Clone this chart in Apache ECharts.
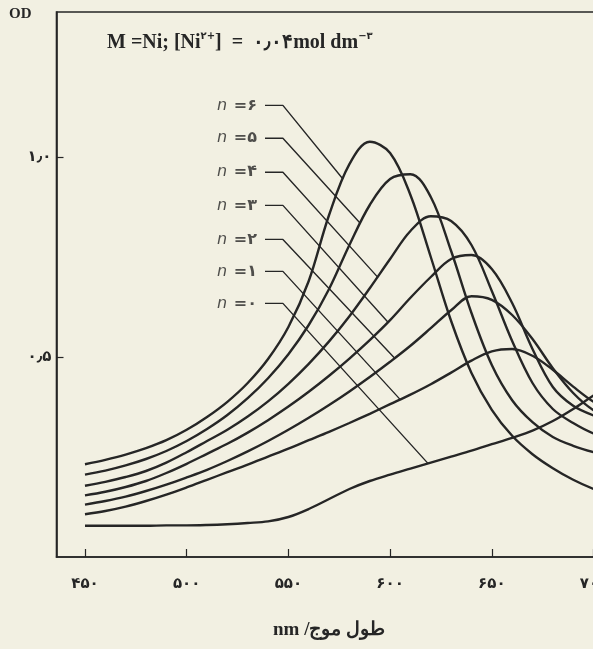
<!DOCTYPE html>
<html>
<head>
<meta charset="utf-8">
<style>
html, body { margin: 0; padding: 0; background: #f2f0e2; }
#chart { width: 593px; height: 649px; }
</style>
</head>
<body>
<div id="chart"></div>
<script src="https://cdn.jsdelivr.net/npm/echarts@6/dist/echarts.min.js"></script>
<script>
// wavelength grid (nm)
var wavelengths = [450, 460, 470, 480, 490, 500, 510, 520, 530, 540, 550, 560, 570, 580, 590,
                   600, 610, 620, 630, 640, 650, 660, 670, 680, 690, 700, 710];

// optical density, one array per n
var od_n0 = [0.078, 0.078, 0.078, 0.078, 0.079, 0.079, 0.080, 0.082, 0.085, 0.089, 0.100, 0.120, 0.145, 0.170, 0.190,
             0.206, 0.221, 0.236, 0.251, 0.266, 0.282, 0.298, 0.316, 0.340, 0.370, 0.404, 0.435];
var od_n1 = [0.107, 0.115, 0.126, 0.140, 0.156, 0.174, 0.193, 0.212, 0.231, 0.251, 0.271, 0.292, 0.313, 0.335, 0.358,
             0.382, 0.406, 0.432, 0.461, 0.491, 0.514, 0.520, 0.503, 0.468, 0.426, 0.388, 0.362];
var od_n2 = [0.131, 0.140, 0.151, 0.165, 0.181, 0.199, 0.218, 0.240, 0.264, 0.290, 0.318, 0.348, 0.380, 0.414, 0.450,
             0.488, 0.528, 0.572, 0.617, 0.652, 0.643, 0.605, 0.545, 0.472, 0.410, 0.367, 0.345];
var od_n3 = [0.154, 0.163, 0.175, 0.190, 0.210, 0.233, 0.258, 0.283, 0.311, 0.342, 0.376, 0.413, 0.453, 0.496, 0.542,
             0.592, 0.648, 0.700, 0.745, 0.755, 0.720, 0.635, 0.520, 0.425, 0.378, 0.354, 0.340];
var od_n4 = [0.178, 0.188, 0.200, 0.215, 0.236, 0.262, 0.290, 0.318, 0.351, 0.389, 0.433, 0.483, 0.539, 0.602, 0.672,
             0.745, 0.815, 0.852, 0.840, 0.780, 0.665, 0.540, 0.435, 0.370, 0.335, 0.309, 0.295];
var od_n5 = [0.206, 0.216, 0.229, 0.245, 0.265, 0.290, 0.320, 0.355, 0.397, 0.447, 0.507, 0.580, 0.670, 0.780, 0.880,
             0.945, 0.957, 0.900, 0.765, 0.610, 0.480, 0.392, 0.337, 0.300, 0.278, 0.262, 0.250];
var od_n6 = [0.232, 0.243, 0.256, 0.272, 0.292, 0.318, 0.350, 0.388, 0.435, 0.495, 0.575, 0.690, 0.855, 0.982, 1.038,
             1.010, 0.905, 0.750, 0.590, 0.460, 0.368, 0.303, 0.257, 0.222, 0.193, 0.170, 0.152];

var seriesOD = [od_n0, od_n1, od_n2, od_n3, od_n4, od_n5, od_n6];
var seriesNames = ['n = ۰', 'n = ۱', 'n = ۲', 'n = ۳', 'n = ۴', 'n = ۵', 'n = ۶'];
var seriesDigits = ['۰', '۱', '۲', '۳', '۴', '۵', '۶'];

// leader lines: label height, where the line leaves the label, bends, and meets its curve
var leaderLabelOD = [0.634, 0.714, 0.794, 0.879, 0.962, 1.047, 1.129];
var leaderStartNm = 538.5;
var leaderBendNm = 547.3;
var leaderEndNm = [618.6, 604.9, 602.4, 599.0, 594.0, 585.2, 576.8];
var leaderEndOD = [0.234, 0.394, 0.496, 0.587, 0.699, 0.835, 0.945];

// ticks
var xTickValues = [450, 500, 550, 600, 650, 700];
var xTickLabels = ['۴۵۰', '۵۰۰', '۵۵۰', '۶۰۰', '۶۵۰', '۷۰۰'];
var yTickValues = [0.5, 1.0];
var yTickLabels = ['۰٫۵', '۱٫۰'];

var ink = '#262626';
var chart = echarts.init(document.getElementById('chart'));

function pairs(xs, ys) {
    var out = [];
    for (var i = 0; i < xs.length; i++) out.push([xs[i], ys[i]]);
    return out;
}

var series = [];
seriesOD.forEach(function (vals, i) {
    series.push({
        name: seriesNames[i],
        type: 'line',
        data: pairs(wavelengths, vals),
        smooth: 0.35,
        showSymbol: false,
        lineStyle: { color: ink, width: 2.4 },
        silent: true,
        z: 3
    });
});

leaderLabelOD.forEach(function (y, i) {
    series.push({
        type: 'line',
        data: [[leaderStartNm, y], [leaderBendNm, y], [leaderEndNm[i], leaderEndOD[i]]],
        showSymbol: false,
        lineStyle: { color: ink, width: 1.4 },
        silent: true,
        z: 2
    });
});

series.push({
    type: 'scatter',
    symbolSize: 0,
    silent: true,
    data: leaderLabelOD.map(function (y, i) { return [leaderStartNm, y, seriesDigits[i]]; }),
    label: {
        show: true,
        position: 'left',
        distance: 8,
        formatter: function (p) { return '{it|n}  {b|=' + p.data[2] + '}'; },
        rich: {
            it: { fontFamily: 'DejaVu Sans', fontStyle: 'italic', fontSize: 16, color: ink },
            b: { fontFamily: 'DejaVu Sans', fontWeight: 'bold', fontSize: 16, color: ink }
        }
    }
});

var option = {
    backgroundColor: '#f2f0e2',
    animation: false,
    grid: {
        left: 56.5, top: 12, width: 577.7, height: 545,
        outerBoundsMode: 'none',
        containLabel: false,
        show: true, borderColor: ink, borderWidth: 1.6
    },
    xAxis: {
        type: 'value', min: 436, max: 720,
        axisLine: { show: true, lineStyle: { color: ink, width: 1.6 } },
        axisTick: { show: true, inside: true, length: 8, customValues: xTickValues, lineStyle: { color: ink, width: 1.2 } },
        axisLabel: {
            customValues: xTickValues,
            margin: 20,
            fontFamily: 'DejaVu Sans', fontWeight: 'bold', fontSize: 15, color: ink,
            formatter: function (v) { return xTickLabels[xTickValues.indexOf(v)]; }
        },
        splitLine: { show: false }
    },
    yAxis: {
        type: 'value', min: 0, max: 1.3625,
        axisLine: { show: true, lineStyle: { color: ink, width: 1.6 } },
        axisTick: { show: true, inside: true, length: 7, customValues: yTickValues, lineStyle: { color: ink, width: 1.2 } },
        axisLabel: {
            customValues: yTickValues,
            margin: 5,
            fontFamily: 'DejaVu Sans', fontWeight: 'bold', fontSize: 15, color: ink,
            formatter: function (v) {
                var k = yTickValues.indexOf(v);
                return k < 0 ? '' : yTickLabels[k];
            }
        },
        splitLine: { show: false }
    },
    graphic: [
        {
            type: 'text', left: 9, top: 7,
            style: { text: 'OD', fontFamily: 'Liberation Serif', fontWeight: 'bold', fontSize: 15, fill: ink }
        },
        {
            type: 'text', left: 107, top: 31,
            style: {
                text: '{b|M =Ni; [Ni}{s|۲+}{b|]  =  ۰٫۰۴mol dm}{s|−۳}',
                rich: {
                    b: { fontFamily: 'Liberation Serif', fontWeight: 'bold', fontSize: 20, lineHeight: 24, fill: ink },
                    s: { fontFamily: 'DejaVu Sans', fontWeight: 'bold', fontSize: 10, lineHeight: 13, verticalAlign: 'top', fill: ink }
                }
            }
        },
        {
            type: 'text', left: 273, top: 621,
            style: { text: 'nm /طول موج', fontFamily: 'Liberation Serif', fontWeight: 'bold', fontSize: 19, fill: ink }
        }
    ],
    series: series
};

chart.setOption(option);
</script>
</body>
</html>
